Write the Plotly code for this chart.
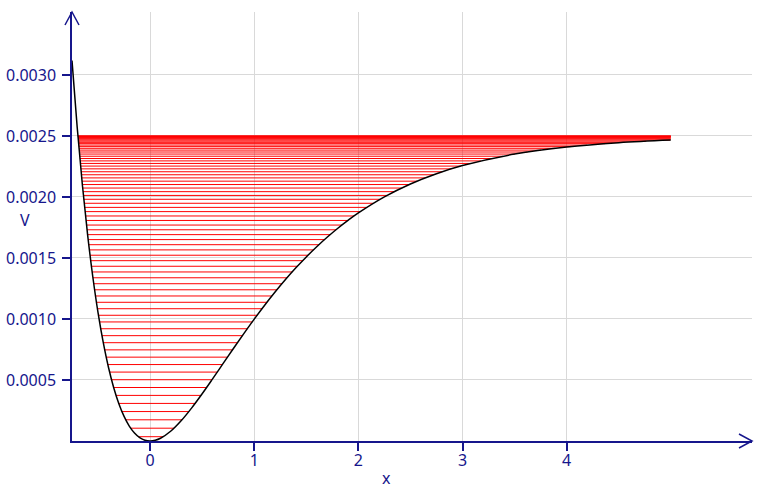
import numpy as np
import plotly.graph_objects as go

# Morse potential curve samples (V in units of 1e-4)
curve_x = [-0.75, -0.7, -0.65, -0.6, -0.55, -0.5, -0.45, -0.4, -0.35, -0.3, -0.25, -0.2,
           -0.15, -0.1, -0.05, 0, 0.05, 0.1, 0.2, 0.3, 0.4, 0.5, 0.6, 0.7, 0.8, 0.9, 1.0,
           1.1, 1.2, 1.3, 1.4, 1.5, 1.6, 1.7, 1.8, 1.9, 2.0, 2.25, 2.5, 2.75, 3.0, 3.5,
           4.0, 4.5, 5.0]
curve_v_e4 = [31.19, 25.69, 20.96, 16.90, 13.44, 10.52, 8.075, 6.047, 4.391, 3.060, 2.0168,
              1.2255, 0.6548, 0.2765, 0.06572, 0.0, 0.05947, 0.2264, 0.8215, 1.6794, 2.7172,
              3.8705, 5.0893, 6.3357, 7.5810, 8.8040, 9.9894, 11.127, 12.208, 13.230, 14.190,
              15.088, 15.924, 16.700, 17.418, 18.081, 18.691, 20.008, 21.064, 21.906, 22.573,
              23.513, 24.093, 24.448, 24.664]

# Energy levels (units of 1e-4) and their left / right extents
levels_e4 = [0.3523, 1.0493, 1.7363, 2.4133, 3.0803, 3.7373, 4.3843, 5.0213, 5.6484, 6.2654,
             6.8724, 7.4695, 8.0565, 8.6335, 9.2006, 9.7576, 10.3047, 10.8417, 11.3688, 11.8858,
             12.3929, 12.8900, 13.3770, 13.8541, 14.3212, 14.7783, 15.2253, 15.6624, 16.0895, 16.5066,
             16.9137, 17.3108, 17.6979, 18.0750, 18.4421, 18.7992, 19.1463, 19.4834, 19.8105, 20.1276,
             20.4347, 20.7319, 21.0190, 21.2961, 21.5633, 21.8204, 22.0676, 22.3047, 22.5318, 22.7490,
             22.9561, 23.1533, 23.3404, 23.5176, 23.6847, 23.8419, 23.9891, 24.1263, 24.2534, 24.3706,
             24.4778, 24.5750, 24.6622, 24.7394, 24.8066, 24.8638, 24.9110, 24.9481, 24.9754, 24.9926,
             24.9998]
level_x_left = [-0.1122, -0.1864, -0.2339, -0.2706, -0.3009, -0.3269, -0.3498, -0.3702, -0.3889, -0.4059,
                -0.4215, -0.4361, -0.4496, -0.4623, -0.4742, -0.4854, -0.4959, -0.5059, -0.5154, -0.5245,
                -0.5330, -0.5412, -0.5490, -0.5564, -0.5635, -0.5703, -0.5768, -0.5831, -0.5890, -0.5948,
                -0.6002, -0.6055, -0.6105, -0.6154, -0.6200, -0.6244, -0.6287, -0.6328, -0.6367, -0.6404,
                -0.6440, -0.6474, -0.6507, -0.6539, -0.6569, -0.6597, -0.6624, -0.6650, -0.6675, -0.6698,
                -0.6721, -0.6742, -0.6761, -0.6780, -0.6797, -0.6814, -0.6829, -0.6843, -0.6856, -0.6868,
                -0.6879, -0.6889, -0.6898, -0.6905, -0.6912, -0.6918, -0.6923, -0.6926, -0.6929, -0.6931,
                -0.6931]
level_x_right = [0.1264, 0.2292, 0.3059, 0.3721, 0.4323, 0.4888, 0.5426, 0.5945, 0.6450, 0.6944,
                 0.7430, 0.7910, 0.8386, 0.8859, 0.9331, 0.9802, 1.0273, 1.0745, 1.1220, 1.1697,
                 1.2177, 1.2660, 1.3149, 1.3642, 1.4142, 1.4648, 1.5160, 1.5679, 1.6207, 1.6744,
                 1.7289, 1.7845, 1.8413, 1.8991, 1.9582, 2.0186, 2.0805, 2.1439, 2.2090, 2.2758,
                 2.3445, 2.4152, 2.4881, 2.5633, 2.6413, 2.7219, 2.8055, 2.8925, 2.9829, 3.0774,
                 3.1761, 3.2797, 3.3885, 3.5032, 3.6246, 3.7538, 3.8908, 4.0382, 4.1964, 4.3686,
                 4.5564, 4.7630, 4.9938, 5.0, 5.0, 5.0, 5.0, 5.0, 5.0, 5.0,
                 5.0]

x_ticks = [0, 1, 2, 3, 4]
y_ticks = [0.0005, 0.0010, 0.0015, 0.0020, 0.0025, 0.0030]
y_tick_text = ["0.0005", "0.0010", "0.0015", "0.0020", "0.0025", "0.0030"]

AXIS = "#16168c"
FONT = "Noto Sans"

lx, ly = [], []
for e, a, b in zip(levels_e4, level_x_left, level_x_right):
    lx += [a, b, None]
    ly += [e * 1e-4, e * 1e-4, None]

fig = go.Figure()
fig.add_trace(go.Scatter(x=lx, y=ly, mode="lines", line=dict(color="#ff0000", width=1),
                         hoverinfo="skip", showlegend=False))
fig.add_trace(go.Scatter(x=curve_x, y=[v * 1e-4 for v in curve_v_e4], mode="lines",
                         line=dict(color="black", width=1.5, shape="spline"),
                         hoverinfo="skip", showlegend=False))

W, H = 783, 493
ml, mr, mt, mb = 72, 31, 12, 52
pw, ph = W - ml - mr, H - mt - mb

fig.update_layout(
    width=W, height=H, autosize=False,
    margin=dict(l=ml, r=mr, t=mt, b=mb, pad=0, autoexpand=False),
    plot_bgcolor="white", paper_bgcolor="white",
    showlegend=False, hovermode=False,
    font=dict(family=FONT, size=16, color=AXIS),
    xaxis=dict(range=[-0.75, 5.78], tickvals=x_ticks, ticktext=[str(t) for t in x_ticks],
               showgrid=True, gridcolor="#d9d9d9", gridwidth=1, zeroline=False,
               showline=True, linecolor=AXIS, linewidth=1.5, automargin=False,
               ticks="outside", ticklen=8, tickwidth=1.5, tickcolor=AXIS,
               ticklabelstandoff=-4,
               tickfont=dict(family=FONT, size=16, color=AXIS)),
    yaxis=dict(range=[0, 0.003516], tickvals=y_ticks, ticktext=y_tick_text,
               showgrid=True, gridcolor="#d9d9d9", gridwidth=1, zeroline=False,
               showline=True, linecolor=AXIS, linewidth=1.5, automargin=False,
               ticks="outside", ticklen=8, tickwidth=1.5, tickcolor=AXIS,
               ticklabelstandoff=3,
               tickfont=dict(family=FONT, size=16, color=AXIS)),
    annotations=[
        dict(text="x", xref="paper", yref="paper", x=(386 - ml) / pw, y=-(478 - (H - mb)) / ph,
             xanchor="center", yanchor="middle", showarrow=False,
             font=dict(family=FONT, size=16, color=AXIS)),
        dict(text="V", xref="paper", yref="paper", x=(25 - ml) / pw, y=((H - mb) - 220) / ph,
             xanchor="center", yanchor="middle", showarrow=False,
             font=dict(family=FONT, size=16, color=AXIS)),
    ],
    shapes=[
        dict(type="path", xref="paper", yref="paper",
             path=f"M {1 - 13 / pw},{7 / ph} L 1,0 L {1 - 13 / pw},{-7 / ph}",
             line=dict(color=AXIS, width=1.5)),
        dict(type="path", xref="paper", yref="paper",
             path=f"M {-7 / pw},{1 - 13 / ph} L 0,1 L {7 / pw},{1 - 13 / ph}",
             line=dict(color=AXIS, width=1.5)),
    ],
)

fig.write_html("out.html", config={"displayModeBar": False},
               post_script="document.body.style.margin='0px';document.body.style.overflow='hidden';")
